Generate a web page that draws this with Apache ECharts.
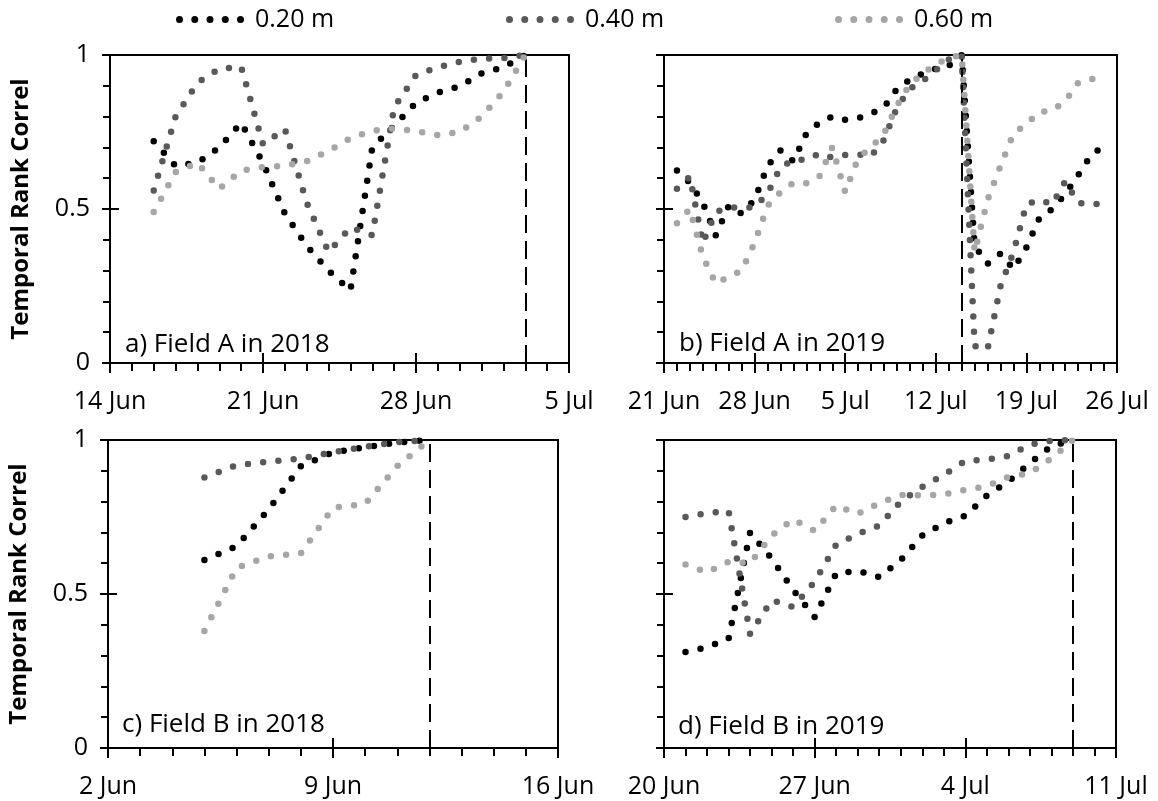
<!DOCTYPE html>
<html><head><meta charset="utf-8">
<script src="https://cdn.jsdelivr.net/npm/echarts@6/dist/echarts.min.js"></script>
<style>html,body{margin:0;padding:0;background:#fff}#c{width:1158px;height:801px}</style>
</head><body><div id="c"></div>
<script>
// ---------------- data ----------------
const seriesNames = ['0.20 m', '0.40 m', '0.60 m'];
const yTickLabels = ['0', '0.5', '1'];
const panelTitles = ['a) Field A in 2018', 'b) Field A in 2019', 'c) Field B in 2018', 'd) Field B in 2019'];

// a) Field A 2018
const aAxisStart = '2018-06-14';
const aFirstDate = '2018-06-16';
const aRefDate = '2018-07-03';
const aTickLabels = ['14 Jun', '21 Jun', '28 Jun', '5 Jul'];
const a020 = [0.72,0.64,0.65,0.70,0.78,0.65,0.485,0.38,0.30,0.235,0.70,0.77,0.845,0.878,0.898,0.94,0.96,1.0];
const a040 = [0.56,0.80,0.91,0.955,0.962,0.71,0.76,0.52,0.36,0.44,0.415,0.83,0.935,0.96,0.978,0.988,0.99,1.0];
const a060 = [0.49,0.62,0.65,0.565,0.625,0.636,0.64,0.655,0.688,0.73,0.754,0.762,0.753,0.74,0.75,0.80,0.88,1.0];

// b) Field A 2019
const bAxisStart = '2019-06-21';
const bFirstDate = '2019-06-22';
const bRefDate = '2019-07-14';
const bTickLabels = ['21 Jun', '28 Jun', '5 Jul', '12 Jul', '19 Jul', '26 Jul'];
const b020 = [0.625,0.585,0.52,0.415,0.51,0.485,0.53,0.64,0.69,0.655,0.745,0.78,0.80,0.79,0.795,0.81,0.83,0.89,0.92,0.94,0.955,0.965,1.0,0.38,0.322,0.355,0.305,0.375,0.47,0.50,0.548,0.61,0.675,0.705];
const b040 = [0.566,0.605,0.39,0.49,0.505,0.505,0.505,0.55,0.635,0.66,0.66,0.68,0.667,0.675,0.677,0.672,0.725,0.83,0.89,0.916,0.95,0.985,1.0,0.055,0.045,0.25,0.36,0.515,0.53,0.515,0.59,0.52,0.515,0.517];
const b060 = [0.454,0.50,0.345,0.258,0.28,0.30,0.39,0.51,0.555,0.585,0.584,0.605,0.70,0.555,0.665,0.70,0.745,0.835,0.905,0.94,0.97,0.99,1.0,0.36,0.53,0.64,0.745,0.775,0.815,0.82,0.85,0.91,0.922,0.92];

// c) Field B 2018
const cAxisStart = '2018-06-02';
const cFirstDate = '2018-06-05';
const cRefDate = '2018-06-12';
const cTickLabels = ['2 Jun', '9 Jun', '16 Jun'];
const c020 = [0.61,0.655,0.775,0.915,0.96,0.976,0.992,1.0];
const c040 = [0.878,0.918,0.93,0.94,0.96,0.978,0.993,1.0];
const c060 = [0.38,0.585,0.622,0.632,0.78,0.793,0.915,1.0];

// d) Field B 2019
const dAxisStart = '2019-06-20';
const dFirstDate = '2019-06-21';
const dRefDate = '2019-07-09';
const dTickLabels = ['20 Jun', '27 Jun', '4 Jul', '11 Jul'];
const d020 = [0.312,0.327,0.355,0.70,0.615,0.513,0.425,0.567,0.575,0.555,0.61,0.69,0.73,0.754,0.82,0.865,0.925,0.98,1.0];
const d040 = [0.75,0.763,0.77,0.37,0.48,0.458,0.54,0.66,0.695,0.722,0.80,0.848,0.887,0.932,0.937,0.948,0.985,0.998,1.0];
const d060 = [0.596,0.57,0.605,0.60,0.69,0.742,0.705,0.787,0.76,0.795,0.822,0.82,0.823,0.838,0.85,0.88,0.893,0.94,1.0];

// ---------------- styling / layout ----------------
const FONT = "'Open Sans', sans-serif";
const colors = ['#000000', '#595959', '#a6a6a6'];
const grids = [
  {left: 110, top: 55, width: 459, height: 308},
  {left: 664, top: 55, width: 453, height: 308},
  {left: 108, top: 440, width: 450, height: 308},
  {left: 664, top: 440, width: 452, height: 308}
];
const titlePos = [[125, 345], [679, 344], [122, 725], [678, 727]];
const legendLeft = [176, 506, 835];

const DAY = 86400000;
function dayDiff(s, d) { return Math.round((Date.parse(d) - Date.parse(s)) / DAY); }

const panels = [
  {start: aAxisStart, first: aFirstDate, ref: aRefDate, ticks: aTickLabels, vals: [a020, a040, a060], yLabels: true},
  {start: bAxisStart, first: bFirstDate, ref: bRefDate, ticks: bTickLabels, vals: [b020, b040, b060], yLabels: false},
  {start: cAxisStart, first: cFirstDate, ref: cRefDate, ticks: cTickLabels, vals: [c020, c040, c060], yLabels: true},
  {start: dAxisStart, first: dFirstDate, ref: dRefDate, ticks: dTickLabels, vals: [d020, d040, d060], yLabels: false}
];

const xAxis = [], yAxis = [], series = [], graphic = [];
panels.forEach((p, i) => {
  const maxX = (p.ticks.length - 1) * 7;
  const base = {
    type: 'value', gridIndex: i, min: 0, max: maxX, interval: 7,
    splitLine: {show: false}, position: 'bottom'
  };
  xAxis.push(Object.assign({}, base, {
    axisLine: {show: true, lineStyle: {color: '#000', width: 2}},
    axisTick: {show: true, inside: false, length: 10, lineStyle: {color: '#000', width: 2}},
    minorTick: {show: true, splitNumber: 7, length: 8, lineStyle: {color: '#000', width: 2}},
    axisLabel: {
      show: true, margin: 26, color: '#000', fontFamily: FONT, fontSize: 25,
      showMinLabel: true, showMaxLabel: true,
      formatter: v => p.ticks[Math.round(v / 7)] || ''
    }
  }));
  xAxis.push(Object.assign({}, base, {
    axisLine: {show: false},
    axisTick: {show: true, inside: true, length: 10, lineStyle: {color: '#000', width: 2}},
    axisLabel: {show: false}
  }));
  const ybase = {type: 'value', gridIndex: i, min: 0, max: 1, interval: 0.5, splitLine: {show: false}, position: 'left'};
  yAxis.push(Object.assign({}, ybase, {
    axisLine: {show: true, lineStyle: {color: '#000', width: 2}},
    axisTick: {show: true, inside: false, length: 8, lineStyle: {color: '#000', width: 2}},
    minorTick: {show: true, splitNumber: 5, length: 7, lineStyle: {color: '#000', width: 2}},
    axisLabel: {
      show: p.yLabels, margin: 20, color: '#000', fontFamily: FONT, fontSize: 25,
      formatter: v => yTickLabels[Math.round(v / 0.5)]
    },
    name: p.yLabels ? 'Temporal Rank Correl' : '',
    nameLocation: 'middle', nameGap: 77, nameRotate: 90,
    nameTextStyle: {fontFamily: FONT, fontSize: 24, fontWeight: 'bold', color: '#000'}
  }));
  yAxis.push(Object.assign({}, ybase, {
    axisLine: {show: false},
    axisTick: {show: true, inside: true, length: 9, lineStyle: {color: '#000', width: 2}},
    axisLabel: {show: false}
  }));
  const off = dayDiff(p.start, p.first);
  p.vals.forEach((vals, k) => {
    const s = {
      name: seriesNames[k], type: 'line', xAxisIndex: 2 * i, yAxisIndex: 2 * i,
      data: vals.map((v, j) => [off + j, v]),
      symbol: 'none', showSymbol: false, smooth: false,
      color: colors[k],
      lineStyle: {color: colors[k], width: 6.5, type: [0, 15.3], cap: 'round', join: 'round'},
      z: 3 + k, silent: true, animation: false
    };
    if (k === 0) {
      s.markLine = {
        silent: true, symbol: 'none', animation: false,
        label: {show: false},
        lineStyle: {color: '#000', width: 2, type: [18, 8]},
        data: [{xAxis: dayDiff(p.start, p.ref)}]
      };
    }
    series.push(s);
  });
  graphic.push({
    type: 'text', x: titlePos[i][0], y: titlePos[i][1], z: 10,
    style: {text: panelTitles[i], fill: '#000', font: "26px 'Open Sans', sans-serif", align: 'left', verticalAlign: 'middle'}
  });
});

function dotsPath() {
  let d = '';
  for (let i = 0; i < 5; i++) {
    const x0 = i * 15.25;
    d += 'M' + x0 + ',3.5A3.5,3.5,0,1,1,' + (x0 + 7) + ',3.5A3.5,3.5,0,1,1,' + x0 + ',3.5Z';
  }
  return 'path://' + d;
}
const legend = seriesNames.map((n, k) => ({
  data: [{name: n, icon: dotsPath()}],
  left: legendLeft[k], top: 7, padding: 0,
  itemWidth: 68, itemHeight: 7, selectedMode: false,
  textStyle: {fontFamily: FONT, fontSize: 25, color: '#000', padding: [0, 0, 0, 6]}
}));

const chart = echarts.init(document.getElementById('c'), null, {renderer: 'canvas'});
chart.setOption({
  animation: false,
  backgroundColor: '#fff',
  grid: grids.map(g => Object.assign({show: true, borderColor: '#000', borderWidth: 2, backgroundColor: 'transparent'}, g)),
  xAxis, yAxis, series, legend, graphic
});
</script></body></html>
